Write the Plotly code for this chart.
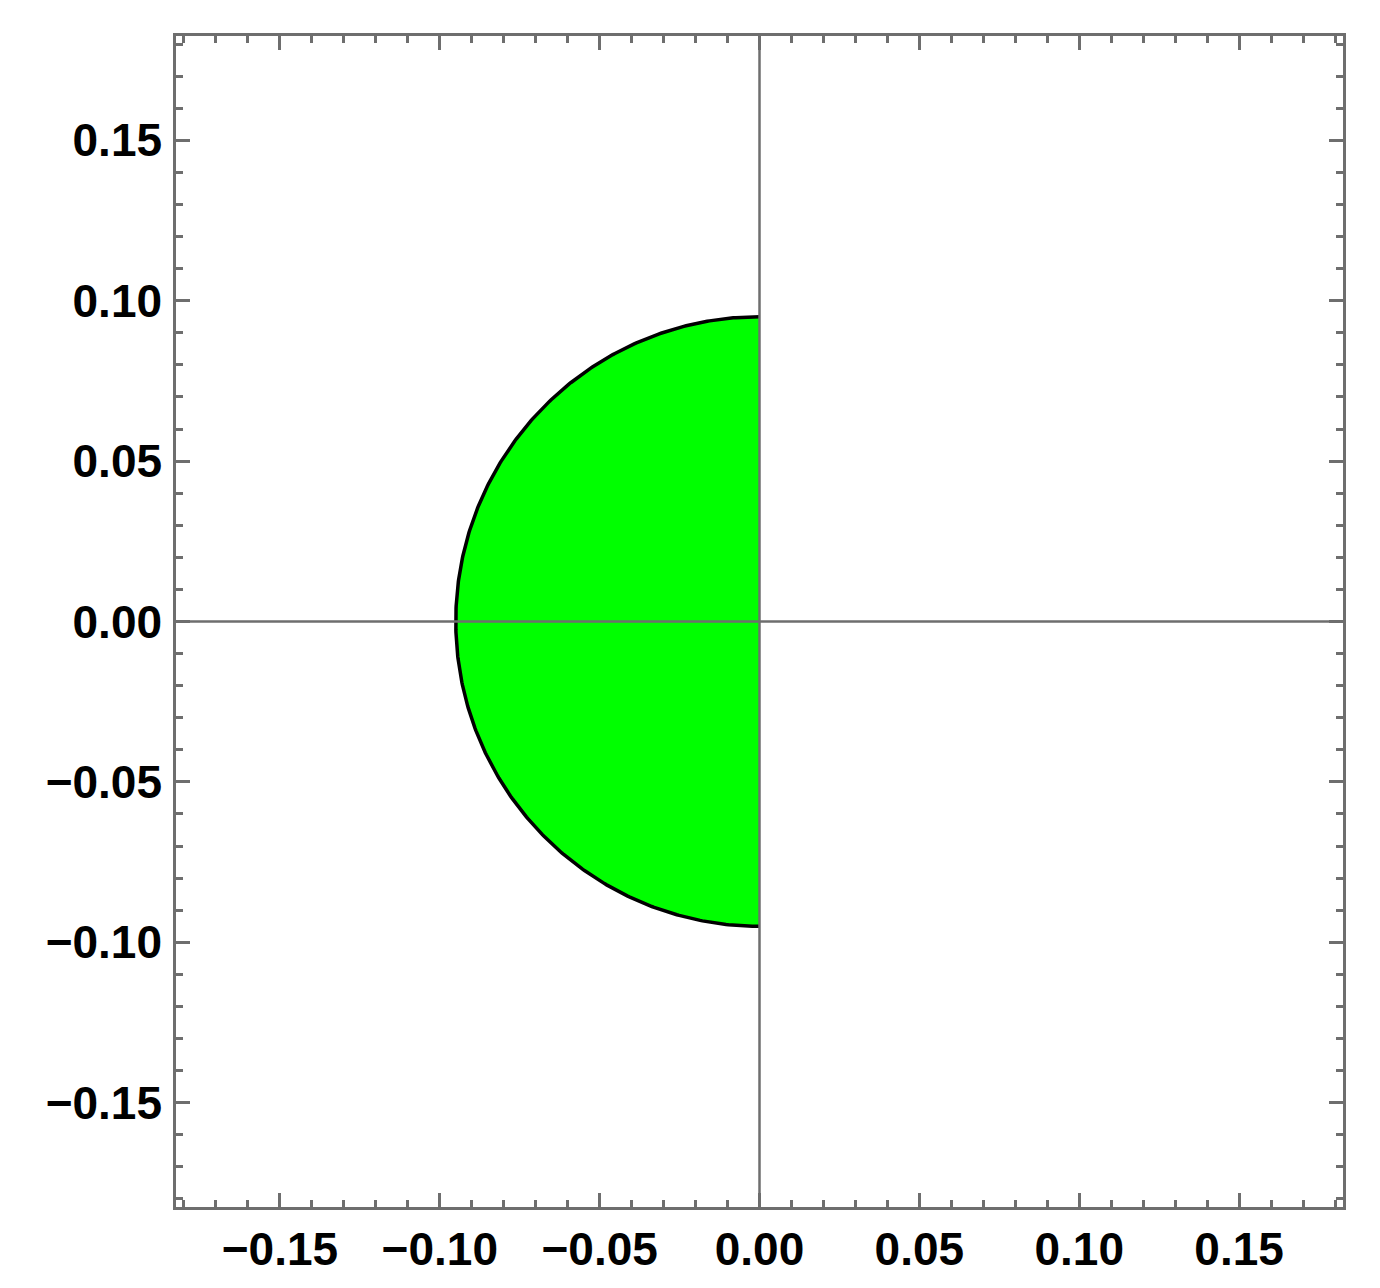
import numpy as np
import plotly.graph_objects as go

# Data
radius = 0.095
center = (0.0, 0.0)
axis_range = [-0.1825, 0.1825]
tick_vals = [-0.15, -0.10, -0.05, 0.00, 0.05, 0.10, 0.15]
tick_text = ["\u22120.15", "\u22120.10", "\u22120.05", "0.00", "0.05", "0.10", "0.15"]

theta = np.linspace(np.pi / 2, 3 * np.pi / 2, 400)
arc_x = center[0] + radius * np.cos(theta)
arc_y = center[1] + radius * np.sin(theta)

fig = go.Figure()
fig.add_trace(go.Scatter(
    x=np.concatenate([arc_x, [arc_x[0]]]),
    y=np.concatenate([arc_y, [arc_y[0]]]),
    mode="lines", fill="toself", fillcolor="#00ff00",
    line=dict(width=0, color="#00ff00"), hoverinfo="skip", showlegend=False))
fig.add_trace(go.Scatter(
    x=arc_x, y=arc_y, mode="lines",
    line=dict(width=3.5, color="black"), hoverinfo="skip", showlegend=False))

frame_col = "#6e6e6e"
font = dict(family="Liberation Sans, Arial", size=46, color="black", weight="bold")
axis_common = dict(
    range=axis_range, showgrid=False, zeroline=False, automargin=False,
    showline=True, linecolor=frame_col, linewidth=2.5, mirror="ticks",
    ticks="inside", ticklen=14, tickwidth=2.5, tickcolor=frame_col,
    tickvals=tick_vals, ticktext=tick_text, tickfont=font,
    minor=dict(ticks="inside", ticklen=7, tickwidth=2.5, tickcolor=frame_col, dtick=0.01, tick0=0, showgrid=False),
)
fig.update_xaxes(**axis_common, ticklabelstandoff=0)
fig.update_yaxes(**axis_common, ticklabelstandoff=2)

fig.add_shape(type="line", xref="x", yref="paper", x0=0, x1=0, y0=0, y1=1,
              line=dict(color=frame_col, width=2.5), layer="above")
fig.add_shape(type="line", xref="paper", yref="y", x0=0, x1=1, y0=0, y1=0,
              line=dict(color=frame_col, width=2.5), layer="above")

fig.update_layout(
    width=1364, height=1272,
    margin=dict(l=168, r=29, t=28, b=73),
    paper_bgcolor="white", plot_bgcolor="white",
    showlegend=False,
)
fig.write_html("out.html")
